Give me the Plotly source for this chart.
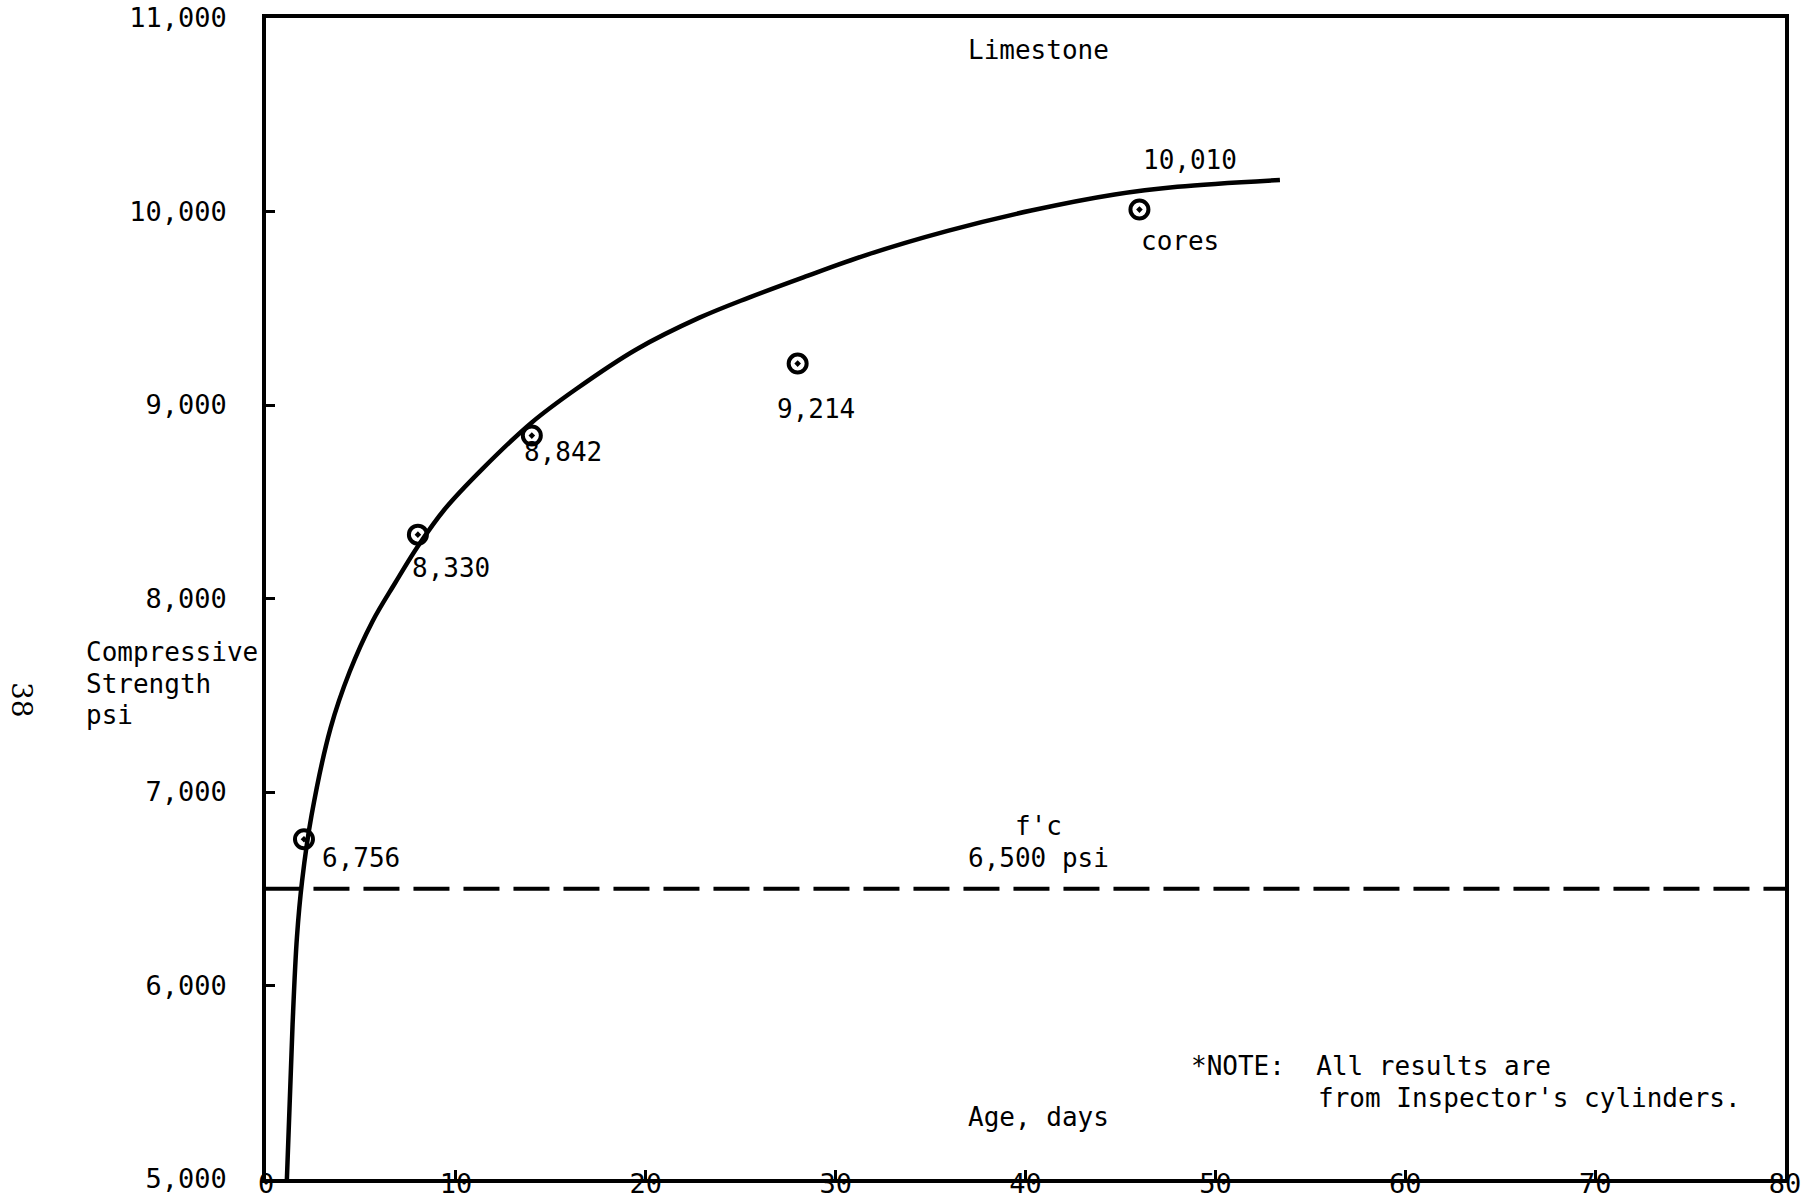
import plotly.graph_objects as go

# Test results: age (days) vs compressive strength (psi)
ages = [2, 8, 14, 28, 46]
strengths = [6756, 8330, 8842, 9214, 10010]
point_labels = ["6,756", "8,330", "8,842", "9,214", "10,010"]

# Hand-fitted strength-gain curve
curve_age = [1.1, 1.4, 1.63, 1.9, 2.4, 3.4, 4.4, 5.6, 6.8, 8.0, 9.4, 11.4, 14.0,
             16.3, 19.5, 22.8, 25.4, 28.3, 31.6, 35.9, 40.3, 44.7, 48.0, 53.4]
curve_psi = [5000, 5800, 6250, 6540, 6880, 7330, 7620, 7880, 8080, 8270, 8460, 8670, 8910,
             9080, 9287, 9450, 9554, 9660, 9775, 9900, 10005, 10088, 10128, 10163]

# Specified strength
fc_psi = 6500
fc_cross_age = 1.85

x_ticks = [0, 10, 20, 30, 40, 50, 60, 70, 80]
y_ticks = [5000, 6000, 7000, 8000, 9000, 10000, 11000]
y_tick_text = ["5,000", "6,000", "7,000", "8,000", "9,000", "10,000", "11,000"]

FONT = "DejaVu Sans Mono"
INK = "black"

# Figure geometry (px)
W, H = 1809, 1200
ML, MR, MT, MB = 266, 24, 18, 21
PW, PH = W - ML - MR, H - MT - MB


def px_to_paper(px, py):
    """Pixel position on the page -> plot-area paper coordinates."""
    return (px - ML) / PW, 1 - (py - MT) / PH


fig = go.Figure()

# f'c reference line: solid stub from the axis to the curve, dashed beyond
fig.add_trace(go.Scatter(x=[0, fc_cross_age], y=[fc_psi, fc_psi], mode="lines",
                         line=dict(color=INK, width=4), hoverinfo="skip"))
fig.add_trace(go.Scatter(x=[2.5, 80], y=[fc_psi, fc_psi], mode="lines",
                         line=dict(color=INK, width=4, dash="36px,14px"), hoverinfo="skip"))

# Strength-gain curve
fig.add_trace(go.Scatter(x=curve_age, y=curve_psi, mode="lines",
                         line=dict(color=INK, width=4.5, shape="spline", smoothing=1.0),
                         hoverinfo="skip"))

# Measured points
fig.add_trace(go.Scatter(x=ages, y=strengths, mode="markers",
                         marker=dict(symbol="circle-open-dot", size=18, color=INK,
                                     line=dict(color=INK, width=4))))

text_font = dict(family=FONT, size=26, color=INK)

# Point labels, placed beside each marker
label_pos = [(2.84, 6659), (7.6, 8156), (13.5, 8758), (26.8, 8979), (46.1, 10267)]
for (lx, ly), txt in zip(label_pos, point_labels):
    fig.add_annotation(x=lx, y=ly, text=txt, showarrow=False, xanchor="left",
                       yanchor="middle", font=text_font)

notes = [
    (40.7, 10833, "Limestone", "center"),
    (46.0, 9849, "cores", "left"),
    (40.7, 6826, "f'c", "center"),
    (40.7, 6659, "6,500 psi", "center"),
    (40.7, 5322, "Age, days", "center"),
    (48.6, 5586, "*NOTE:  All results are", "left"),
    (55.3, 5419, "from Inspector's cylinders.", "left"),
]
for nx, ny, txt, anchor in notes:
    fig.add_annotation(x=nx, y=ny, text=txt, showarrow=False, xanchor=anchor,
                       yanchor="middle", font=text_font)

# Y-axis title block left of the frame
for i, line in enumerate(["Compressive", "Strength", "psi"]):
    ax, ay = px_to_paper(84, 652 + 31.5 * i)
    fig.add_annotation(xref="paper", yref="paper", x=ax, y=ay, text=line,
                       showarrow=False, xanchor="left", yanchor="middle", font=text_font)

# Page number
px, py = px_to_paper(22, 700)
fig.add_annotation(xref="paper", yref="paper", x=px, y=py, text="38",
                   showarrow=False, textangle=90, xanchor="center", yanchor="middle",
                   font=dict(family="DejaVu Serif", size=28, color=INK))

axis_style = dict(showgrid=False, zeroline=False, showline=True, linecolor=INK,
                  linewidth=3.5, mirror=True, ticks="inside", ticklen=9, tickwidth=3,
                  tickcolor=INK, tickfont=dict(family=FONT, size=27, color=INK),
                  automargin=False)

fig.update_xaxes(range=[0, 80], tickvals=x_ticks, ticktext=[str(v) for v in x_ticks],
                 ticklabelstandoff=-22, **axis_style)
fig.update_yaxes(range=[5000, 11000], tickvals=y_ticks, ticktext=y_tick_text,
                 ticklabelstandoff=30, **axis_style)

fig.update_layout(width=W, height=H, showlegend=False,
                  paper_bgcolor="white", plot_bgcolor="white",
                  margin=dict(l=ML, r=MR, t=MT, b=MB))

fig.write_html("out.html")
